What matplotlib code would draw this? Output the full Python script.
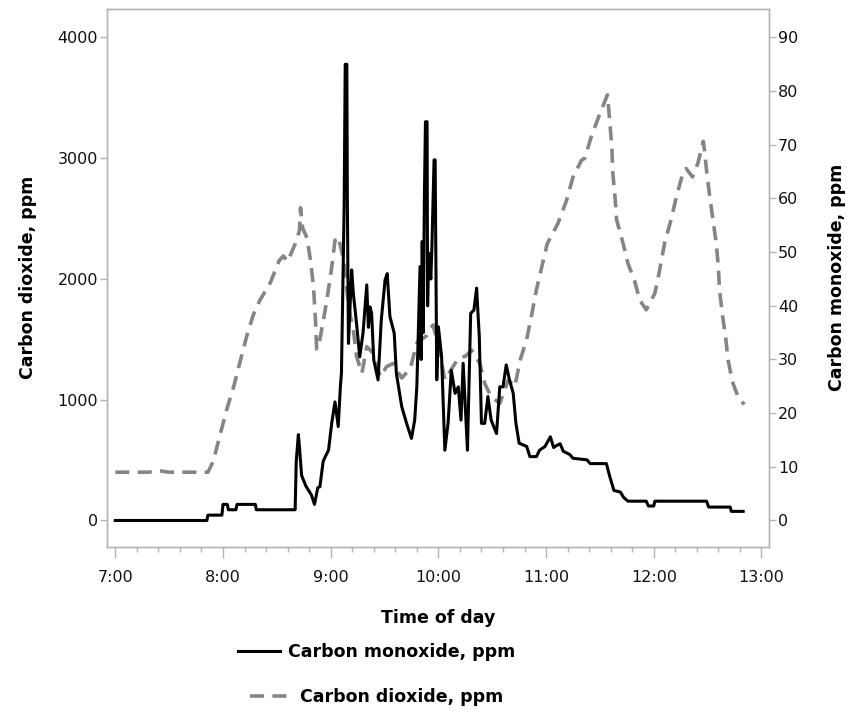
import matplotlib
matplotlib.use("Agg")
import matplotlib.pyplot as plt
from matplotlib.ticker import MultipleLocator, FuncFormatter

# time of day in decimal hours
co2_time = [7.00, 7.30, 7.42, 7.50, 7.86, 7.91, 7.97, 8.03, 8.10, 8.16, 8.22, 8.28,
            8.34, 8.44, 8.52, 8.56, 8.60, 8.67, 8.71, 8.72, 8.74, 8.78, 8.81, 8.84,
            8.86, 8.87, 8.90, 8.96, 9.01, 9.04, 9.07, 9.12, 9.17, 9.21, 9.24, 9.29,
            9.335, 9.395, 9.46, 9.52, 9.58, 9.66, 9.74, 9.80, 9.89, 9.95, 10.00, 10.06,
            10.185, 10.25, 10.31, 10.385, 10.43, 10.49, 10.57, 10.65, 10.71, 10.76,
            10.82, 10.87, 10.91, 10.96, 11.01, 11.11, 11.19, 11.25, 11.33, 11.36,
            11.42, 11.50, 11.57, 11.59, 11.61, 11.62, 11.64, 11.655, 11.715, 11.76,
            11.82, 11.87, 11.93, 12.01, 12.055, 12.10, 12.16, 12.21, 12.27, 12.30,
            12.36, 12.41, 12.46, 12.47, 12.49, 12.52, 12.55, 12.58, 12.60, 12.61,
            12.64, 12.67, 12.69, 12.73, 12.78, 12.84]
co2_ppm = [400, 400, 410, 400, 400, 490, 700, 905, 1110, 1320, 1525, 1700,
           1820, 1970, 2150, 2190, 2145, 2290, 2400, 2590, 2420, 2340, 2170, 1940,
           1640, 1420, 1500, 1800, 2100, 2320, 2350, 2160, 1750, 1580, 1360, 1220,
           1440, 1385, 1190, 1275, 1300, 1180, 1260, 1470, 1530, 1620, 1450, 1165,
           1345, 1360, 1410, 1300, 1135, 1025, 970, 1165, 1110, 1330,
           1500, 1720, 1910, 2100, 2290, 2460, 2650, 2845, 2985, 3000,
           3180, 3370, 3525, 3320, 3095, 2875, 2680, 2490, 2295, 2130,
           1990, 1825, 1745, 1880, 2075, 2295, 2490, 2680, 2875, 2915,
           2845, 2960, 3140, 3070, 2900, 2680, 2490, 2295, 2100, 1910,
           1690, 1495, 1330, 1150, 1030, 960]

co_time = [7.00, 7.85, 7.86, 7.99, 8.00, 8.04, 8.05, 8.12, 8.13, 8.30, 8.31, 8.67,
           8.68, 8.70, 8.71, 8.73, 8.77, 8.82, 8.85, 8.88, 8.90, 8.93, 8.95, 8.98,
           9.01, 9.04, 9.07, 9.09, 9.10, 9.125, 9.135, 9.15, 9.155, 9.165, 9.18,
           9.195, 9.21, 9.24, 9.27, 9.30, 9.335, 9.35, 9.365, 9.38, 9.40, 9.44,
           9.47, 9.505, 9.525, 9.55, 9.59, 9.61, 9.66, 9.705, 9.75, 9.78, 9.80,
           9.83, 9.84, 9.85, 9.86, 9.87, 9.88, 9.895, 9.90, 9.91, 9.93, 9.94, 9.96,
           9.97, 9.985, 10.00, 10.03, 10.06, 10.09, 10.12, 10.155, 10.185, 10.21,
           10.23, 10.27, 10.30, 10.33, 10.355, 10.38, 10.40, 10.43, 10.46, 10.49,
           10.54, 10.57, 10.60, 10.63, 10.66, 10.695, 10.72, 10.75, 10.82, 10.85,
           10.91, 10.94, 10.99, 11.04, 11.07, 11.10, 11.13, 11.16, 11.22, 11.25,
           11.38, 11.41, 11.56, 11.59, 11.63, 11.69, 11.72, 11.76, 11.93, 11.95,
           12.00, 12.01, 12.49, 12.51, 12.71, 12.72, 12.83]
co_ppm = [0, 0, 1, 1, 3, 3, 2, 2, 3, 3, 2, 2,
          11, 16, 13.7, 8.4, 6.4, 4.8, 3, 6.1, 6.3, 11, 11.9, 13.1,
          18.2, 22.1, 17.5, 24.9, 27.5, 58.5, 85, 85, 59, 33, 40,
          46.7, 42.4, 36.7, 30.5, 34.9, 43.9, 36, 39.8, 38.6, 29.9, 26.2,
          37.4, 44.8, 46, 38, 34.9, 27.4, 21.2, 18.1, 15.3, 18.7, 24.9,
          47.3, 30, 52, 35, 60, 74.3, 74.3, 40, 49.8, 45, 51, 67.2,
          67.2, 26.2, 36.1, 30.5, 13.1, 18.1, 28, 23.7, 24.9, 18.7,
          29.3, 13.1, 38.6, 39.2, 43.3, 34.2, 18.1, 18.1, 23.1, 18.7,
          16.2, 24.9, 24.9, 29, 26.2, 23.7, 18.1, 14.4, 13.8, 11.9,
          11.9, 13.1, 13.8, 15.6, 13.6, 14.0, 14.3, 12.9, 12.3, 11.6,
          11.3, 10.6, 10.6, 8.3, 5.6, 5.3, 4.3, 3.6, 3.6, 2.7,
          2.7, 3.6, 3.6, 2.5, 2.5, 1.7, 1.7]

hour_ticks = [7, 8, 9, 10, 11, 12, 13]
co2_ticks = [0, 1000, 2000, 3000, 4000]
co_ticks = list(range(0, 100, 10))

frame_grey = "#b4b4b4"
label_font = {"size": 12.5, "weight": "bold"}

fig = plt.figure(figsize=(8.57, 7.14), dpi=100)
ax = fig.add_axes([107 / 857, 1 - 546.7 / 714, 662 / 857, 537.7 / 714])
ax2 = ax.twinx()

co2_line, = ax.plot(co2_time, co2_ppm, color="#858585", lw=2.6, dashes=(3.9, 2.3))
co_line, = ax2.plot(co_time, co_ppm, color="black", lw=2.2)

ax.set_xlim(6.923, 13.07)
ax.set_ylim(-217, 4236)
ax2.set_ylim(-217 * 0.0225, 4236 * 0.0225)

ax.set_xticks(hour_ticks)
ax.xaxis.set_minor_locator(MultipleLocator(0.2))
ax.xaxis.set_major_formatter(FuncFormatter(lambda h, _: f"{int(round(h))}:00"))
ax.set_yticks(co2_ticks)
ax2.set_yticks(co_ticks)

for a in (ax, ax2):
    for s in a.spines.values():
        s.set_color(frame_grey)
        s.set_linewidth(1.0)
ax.tick_params(axis="x", which="major", length=8, width=1, color=frame_grey,
               pad=9, labelsize=11.5, labelcolor="#111111")
ax.tick_params(axis="x", which="minor", length=3.8, width=1, color=frame_grey)
ax.tick_params(axis="y", length=5, width=1, color=frame_grey, pad=1.5,
               labelsize=11.5, labelcolor="#111111")
ax2.tick_params(axis="y", length=5, width=1, color=frame_grey, pad=1.5,
                labelsize=11.5, labelcolor="#111111")

ax.set_xlabel("Time of day", fontdict=label_font)
ax.xaxis.set_label_coords(0.5, -0.115)
ax.set_ylabel("Carbon dioxide, ppm", fontdict=label_font)
ax.yaxis.set_label_coords(-0.1057, 0.5)
ax2.set_ylabel("Carbon monoxide, ppm", fontdict=label_font)
ax2.yaxis.set_label_coords(1.089, 0.5)

leg1 = fig.legend([co_line], ["Carbon monoxide, ppm"], loc="center",
                  bbox_to_anchor=(376.5 / 857, 1 - 652 / 714), frameon=False,
                  prop=label_font, handlelength=2.47, handletextpad=0.45,
                  borderpad=0, borderaxespad=0)
leg2 = fig.legend([co2_line], ["Carbon dioxide, ppm"], loc="center",
                  bbox_to_anchor=(376.5 / 857, 1 - 697 / 714), frameon=False,
                  prop=label_font, handlelength=2.47, handletextpad=0.42,
                  borderpad=0, borderaxespad=0)

fig.savefig("out.png", dpi=100)
